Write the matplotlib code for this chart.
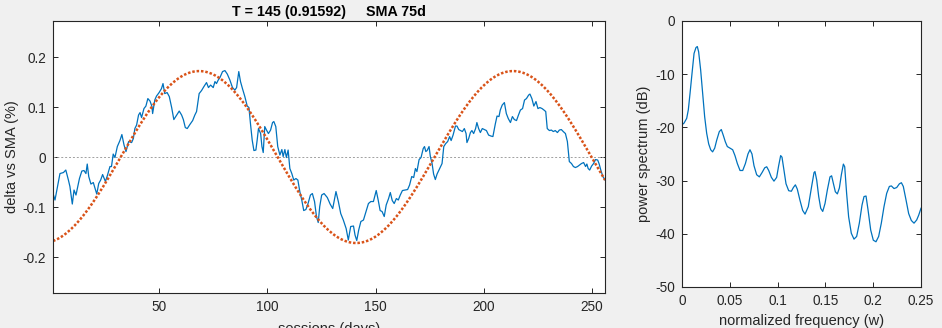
import numpy as np
import matplotlib
matplotlib.use('Agg')
import matplotlib.pyplot as plt
from matplotlib.ticker import FuncFormatter

# delta of price vs 75d SMA (day, %)
days = [1, 1.9, 3.5, 4.2, 5.8, 6.9, 8.1, 8.8, 9.9, 10.7, 11.6, 13.2, 14.3, 15.3, 16.2, 16.8,
        17.5, 18.5, 19.6, 21.2, 22.1, 23.0, 23.9, 25.2, 26.1, 27.3, 28.0, 28.8, 29.6, 30.7,
        31.9, 32.8, 33.8, 34.7, 35.9, 37.3, 38.1, 38.8, 39.6, 40.5, 41.2, 41.9, 43.0, 43.9,
        44.8, 45.8, 46.7, 47.0, 48.0, 48.8, 50.0, 51.1, 51.8, 52.6, 53.7, 54.7, 55.8, 56.8,
        58.1, 59.3, 60.4, 61.2, 62.1, 63.0, 64.2, 65.5, 66.5, 67.3, 68.5, 69.6, 70.7, 71.9,
        72.8, 73.8, 75.0, 75.8, 76.5, 77.3, 78.1, 79.3, 80.4, 81.5, 82.7, 83.9, 85.0, 85.8,
        86.8, 87.6, 88.5, 89.6, 90.7, 91.5, 92.2, 93.0, 93.8, 94.7, 95.3, 95.9, 96.9, 97.5,
        98.1, 98.8, 99.6, 100.5, 101.5, 102.4, 103.0, 103.9, 104.8, 105.8, 106.7, 107.3,
        108.1, 108.8, 109.6, 110.4, 111.3, 112.2, 113.2, 114.1, 115.0, 115.9, 116.8, 117.8,
        118.8, 119.9, 120.8, 121.8, 122.7, 123.5, 124.2, 125.1, 126.2, 127.7, 129.0, 130.2,
        131.7, 132.8, 133.9, 135.1, 136.4, 137.4, 138.5, 139.8, 140.5, 141.3, 142.2, 143.2,
        144.4, 145.6, 146.7, 147.8, 149.0, 150.3, 151.2, 152.1, 153.0, 154.0, 154.9, 156.0,
        156.8, 157.7, 158.6, 159.6, 160.5, 161.4, 162.4, 163.7, 164.8, 165.7, 166.7, 167.6,
        168.4, 169.1, 170.1, 171.0, 172.0, 172.6, 173.2, 173.8, 174.7, 175.3, 176.1, 176.8,
        177.6, 178.4, 179.6, 180.7, 181.5, 182.4, 183.3, 184.2, 184.9, 185.8, 186.9, 187.6,
        188.4, 189.2, 190.1, 191.0, 191.8, 192.2, 193.0, 193.8, 194.5, 195.3, 196.2, 196.8,
        197.6, 198.4, 199.3, 200.2, 201.2, 202.2, 203.3, 204.2, 205.3, 206.1, 207.0, 207.6,
        208.5, 209.5, 210.4, 211.3, 212.3, 213.2, 214.1, 215.1, 216.0, 216.9, 217.9, 218.8,
        219.7, 220.7, 221.3, 222.2, 223.1, 224.1, 225.0, 225.9, 226.9, 227.8, 228.6, 229.3,
        230.3, 231.2, 232.1, 233.0, 234.0, 234.9, 235.8, 236.7, 237.7, 238.6, 239.5, 240.5,
        241.4, 242.3, 243.3, 244.2, 245.1, 246.1, 247.0, 247.6, 248.2, 248.9, 249.8, 250.7,
        251.6, 252.6, 253.3, 254.1, 255.0, 256.0]
delta = [-0.073, -0.086, -0.049, -0.033, -0.031, -0.026, -0.046, -0.059, -0.094, -0.066,
         -0.076, -0.043, -0.028, -0.027, -0.033, -0.014, -0.039, -0.054, -0.051, -0.074,
         -0.053, -0.046, -0.035, -0.049, -0.037, -0.019, -0.019, 0.006, -0.001, 0.021,
         0.033, 0.045, 0.024, 0.011, 0.031, 0.029, 0.037, 0.057, 0.064, 0.084, 0.089, 0.079,
         0.097, 0.102, 0.117, 0.112, 0.101, 0.087, 0.114, 0.122, 0.129, 0.137, 0.147, 0.127,
         0.129, 0.121, 0.099, 0.075, 0.084, 0.092, 0.084, 0.075, 0.059, 0.057, 0.065, 0.073,
         0.084, 0.091, 0.127, 0.133, 0.141, 0.149, 0.139, 0.144, 0.139, 0.151, 0.147, 0.154,
         0.159, 0.171, 0.173, 0.166, 0.154, 0.139, 0.134, 0.139, 0.171, 0.151, 0.137, 0.121,
         0.102, 0.099, 0.067, 0.034, 0.013, 0.014, 0.034, 0.057, 0.047, 0.021, 0.009, 0.061,
         0.054, 0.047, 0.054, 0.069, 0.071, 0.061, 0.021, 0.004, 0.015, 0.001, 0.015, -0.001,
         0.014, -0.023, -0.033, -0.046, -0.043, -0.046, -0.069, -0.086, -0.107, -0.105,
         -0.093, -0.076, -0.073, -0.089, -0.119, -0.131, -0.099, -0.076, -0.073, -0.081,
         -0.094, -0.103, -0.069, -0.089, -0.113, -0.126, -0.143, -0.166, -0.139, -0.138,
         -0.156, -0.167, -0.146, -0.129, -0.126, -0.109, -0.093, -0.089, -0.089, -0.067,
         -0.086, -0.107, -0.109, -0.119, -0.096, -0.083, -0.071, -0.087, -0.093, -0.083,
         -0.086, -0.076, -0.067, -0.066, -0.065, -0.056, -0.039, -0.041, -0.023, -0.029,
         -0.005, -0.001, 0.017, 0.021, 0.011, 0.013, 0.021, 0.001, -0.013, -0.034, -0.045,
         -0.034, -0.023, -0.013, 0.021, 0.027, 0.031, 0.041, 0.033, 0.044, 0.062, 0.062,
         0.055, 0.053, 0.051, 0.057, 0.047, 0.029, 0.037, 0.049, 0.053, 0.047, 0.057, 0.069,
         0.057, 0.049, 0.057, 0.055, 0.053, 0.044, 0.042, 0.041, 0.066, 0.082, 0.081, 0.094,
         0.104, 0.109, 0.087, 0.077, 0.069, 0.081, 0.075, 0.073, 0.084, 0.094, 0.097, 0.114,
         0.117, 0.124, 0.126, 0.117, 0.102, 0.111, 0.097, 0.099, 0.097, 0.094, 0.091, 0.057,
         0.053, 0.054, 0.051, 0.053, 0.049, 0.054, 0.055, 0.051, 0.047, 0.031, -0.009,
         -0.013, -0.019, -0.021, -0.019, -0.016, -0.013, -0.011, -0.019, -0.014, -0.023,
         -0.026, -0.018, -0.013, -0.005, -0.006, -0.014, -0.027, -0.039, -0.046]

# sine fit shown in the title: period T = 145
fit_period = 145
fit_amp = 0.172
fit_shift = 32.25

# power spectrum
freq = [0.0, 0.0021, 0.0049, 0.0066, 0.0084, 0.0105, 0.0126, 0.0146, 0.016, 0.0174, 0.0195,
        0.0216, 0.0237, 0.0258, 0.0279, 0.030, 0.032, 0.0342, 0.0363, 0.039, 0.0411, 0.0432,
        0.0453, 0.0474, 0.0502, 0.053, 0.0554, 0.0579, 0.0607, 0.0635, 0.0663, 0.069, 0.0711,
        0.0732, 0.0753, 0.0781, 0.0809, 0.0837, 0.0865, 0.0886, 0.0907, 0.0935, 0.0962, 0.099,
        0.1011, 0.1032, 0.1046, 0.1067, 0.1088, 0.1116, 0.1144, 0.1165, 0.1186, 0.1206,
        0.1234, 0.1262, 0.1287, 0.1321, 0.1356, 0.1381, 0.1391, 0.1409, 0.143, 0.1451,
        0.1472, 0.1496, 0.152, 0.1548, 0.1565, 0.1583, 0.1604, 0.1625, 0.1646, 0.1667,
        0.1688, 0.1702, 0.1722, 0.1743, 0.1771, 0.1799, 0.1827, 0.1855, 0.1883, 0.1904,
        0.1925, 0.1946, 0.1974, 0.2001, 0.2029, 0.2057, 0.2085, 0.2113, 0.2141, 0.2169,
        0.219, 0.2218, 0.2246, 0.2274, 0.2295, 0.2315, 0.2343, 0.2371, 0.2399, 0.2427,
        0.2455, 0.2476, 0.25]
power_db = [-19.5, -19.2, -18.3, -16.7, -13.6, -9.8, -6.1, -5.0, -4.8, -5.8, -9.2, -13.6,
            -18.0, -21.1, -23.1, -24.2, -24.6, -23.9, -22.4, -20.8, -20.4, -21.5, -22.7,
            -23.6, -23.9, -24.2, -25.3, -26.8, -28.1, -28.1, -26.8, -25.0, -24.2, -25.0,
            -27.2, -28.9, -29.3, -28.5, -27.6, -27.4, -28.1, -29.4, -30.1, -29.4, -27.2,
            -25.3, -25.6, -28.1, -30.6, -31.9, -32.0, -31.3, -30.8, -31.6, -33.7, -35.6,
            -36.3, -34.9, -31.1, -28.5, -28.3, -29.9, -33.0, -35.2, -35.8, -34.3, -31.8,
            -29.3, -29.1, -30.5, -32.1, -32.5, -31.4, -28.9, -26.9, -27.4, -32.4, -36.8,
            -39.9, -41.0, -40.5, -38.0, -34.6, -33.0, -32.9, -35.5, -39.3, -41.2, -41.5,
            -40.5, -38.0, -34.9, -32.4, -31.1, -31.0, -31.5, -31.3, -30.6, -30.4, -31.1,
            -33.6, -36.2, -37.5, -38.0, -37.4, -36.5, -35.2]

BLUE = '#0072BD'
ORANGE = '#D95319'
DARK = '#262626'

plt.rcParams['font.family'] = ['Liberation Sans', 'DejaVu Sans']
plt.rcParams['axes.unicode_minus'] = False

fig = plt.figure(figsize=(9.42, 3.28), dpi=100)
fig.patch.set_facecolor('#F0F0F0')

ax1 = fig.add_axes([0.0563, 0.1067, 0.586, 0.829])
ax2 = fig.add_axes([0.724, 0.125, 0.2537, 0.811])

fmt = FuncFormatter(lambda v, p: f'{v:g}')

# left panel
t = np.arange(1, 257)
fit = fit_amp * np.sin(2 * np.pi * (t - fit_shift) / fit_period)
ax1.axhline(0, color='#a0a0a0', lw=0.7, ls=(0, (2, 2)))
ax1.plot(days, delta, color=BLUE, lw=0.9)
ax1.plot(t, fit, color=ORANGE, lw=1.8, ls=(0, (1, 0.75)))
ax1.set_xlim(1, 256)
ax1.set_ylim(-0.272, 0.272)
ax1.set_xticks([50, 100, 150, 200, 250])
ax1.set_yticks([-0.2, -0.1, 0, 0.1, 0.2])
ax1.yaxis.set_major_formatter(fmt)
ax1.set_xlabel('sessions (days)', fontsize=10.5, color=DARK, labelpad=6)
ax1.set_ylabel('delta vs SMA (%)', fontsize=10.5, color=DARK, labelpad=3)
ax1.set_title('T = 145 (0.91592)     SMA 75d', fontsize=10.3, fontweight='bold',
              color='black', pad=4)

# right panel
ax2.plot(freq, power_db, color=BLUE, lw=0.9)
ax2.set_xlim(0, 0.25)
ax2.set_ylim(-50, 0)
ax2.set_xticks([0, 0.05, 0.1, 0.15, 0.2, 0.25])
ax2.set_yticks([-50, -40, -30, -20, -10, 0])
ax2.xaxis.set_major_formatter(fmt)
ax2.yaxis.set_major_formatter(fmt)
ax2.set_xlabel('normalized frequency (w)', fontsize=10.5, color=DARK, labelpad=4)
ax2.set_ylabel('power spectrum (dB)', fontsize=10.5, color=DARK, labelpad=3)

for ax in (ax1, ax2):
    ax.set_facecolor('white')
    for s in ax.spines.values():
        s.set_color(DARK)
        s.set_linewidth(0.8)
    ax.tick_params(direction='in', length=3.5, width=0.7, colors=DARK,
                   labelsize=9.8, top=True, right=True, pad=5)

fig.savefig('out.png', dpi=100, facecolor=fig.get_facecolor())
